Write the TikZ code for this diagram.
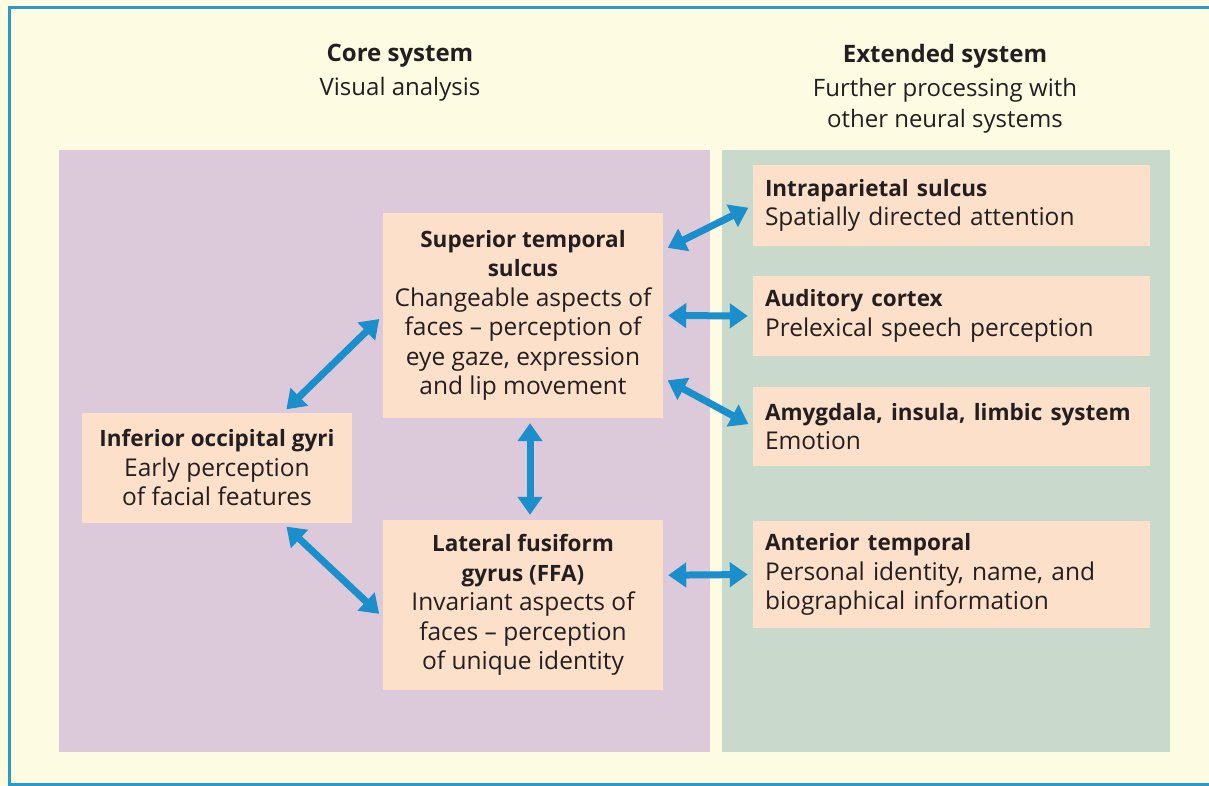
\documentclass[tikz,border=0pt]{standalone}
\usepackage{fontspec}
\setmainfont{Open Sans}
\usepackage{tikz}
\usetikzlibrary{arrows.meta}
\definecolor{paper}{HTML}{FEFBE3}
\definecolor{frameblue}{HTML}{2B9ACB}
\definecolor{corepanel}{HTML}{DCCADB}
\definecolor{extpanel}{HTML}{C9DACC}
\definecolor{boxpeach}{HTML}{FCE0CA}
\definecolor{linkblue}{HTML}{1A8FCB}
\definecolor{inkdark}{HTML}{231F20}
\tikzset{basic/.style={fill=boxpeach,text=inkdark,inner sep=0pt,
                       font=\fontsize{24.5}{29.5}\selectfont}}
\tikzset{core/.style={basic,align=center,minimum width=280pt}}
\tikzset{extd/.style={basic,align=left,inner xsep=12pt,text width=373pt}}
\newcommand{\regionhead}[1]{\mbox{\fontsize{22.5}{29.5}\selectfont\bfseries #1}}
\def\tiplen{18pt}

\begin{document}
\begin{tikzpicture}[x=1pt,y=-1pt]
    \tikzstyle{title}=[text=inkdark,align=center,font=\fontsize{24}{31}\selectfont]
    \tikzstyle{link}=[{Triangle[length=\tiplen,width=24pt]}-{Triangle[length=\tiplen,width=24pt]},
                      line width=7pt,draw=linkblue,shorten <=5pt,shorten >=5pt]
    \useasboundingbox (0,0) rectangle (1209,786);

    % Background, frame and the two panels
    \fill[paper] (0,0) rectangle (1209,786);
    \draw[frameblue,line width=3pt] (9,8) rectangle (1230,784);
    \fill[corepanel] (59,150) rectangle (710,752);
    \fill[extpanel] (722,150) rectangle (1170,752);

    % Panel headings
    \node[title] (core-title) at (400,73) {\textbf{Core system}\\[3pt]Visual analysis};
    \node[title] (ext-title) at (945,89) {\textbf{Extended system}\\[3pt]Further processing with\\other neural systems};

    % Core system regions
    \node[core,minimum height=205pt] (sts) at (523,315.5)
        {\regionhead{Superior temporal}\\\regionhead{sulcus}\\Changeable aspects of\\faces -- perception of\\eye gaze, expression\\and lip movement};
    \node[core,minimum width=270pt,minimum height=110pt] (iog) at (217,468)
        {\regionhead{Inferior occipital gyri}\\Early perception\\of facial features};
    \node[core,minimum height=170pt] (ffa) at (523,605)
        {\regionhead{Lateral fusiform}\\\regionhead{gyrus (FFA)}\\Invariant aspects of\\faces -- perception\\of unique identity};

    % Extended system regions
    \foreach \name / \y / \h / \head / \body in
        {ips/205.5/81/{Intraparietal sulcus}/{Spatially directed attention},
         aud/316/80/{Auditory cortex}/{Prelexical speech perception},
         amy/426.5/79/{Amygdala, insula, limbic system}/{Emotion},
         ant/574.5/107/{Anterior temporal}/{Personal identity, name, and\\biographical information}}
        \node[extd,minimum height=\h pt] (\name) at (951.5,\y) {\regionhead{\head}\\\body};

    % Connect the core regions with one another
    \draw[link] (iog.40) -- (sts.west);
    \draw[link] (iog.-40) -- (ffa.185);
    \draw[link] ([xshift=7pt]sts.south) -- ([xshift=7pt]ffa.north);

    % Connect the core regions with the extended system
    \foreach \source / \dest in {sts.25/ips.west,sts.east/aud.west,sts.-24/amy.west,ffa.12/ant.west}
        \draw[link] (\source) -- (\dest);
\end{tikzpicture}
\end{document}
